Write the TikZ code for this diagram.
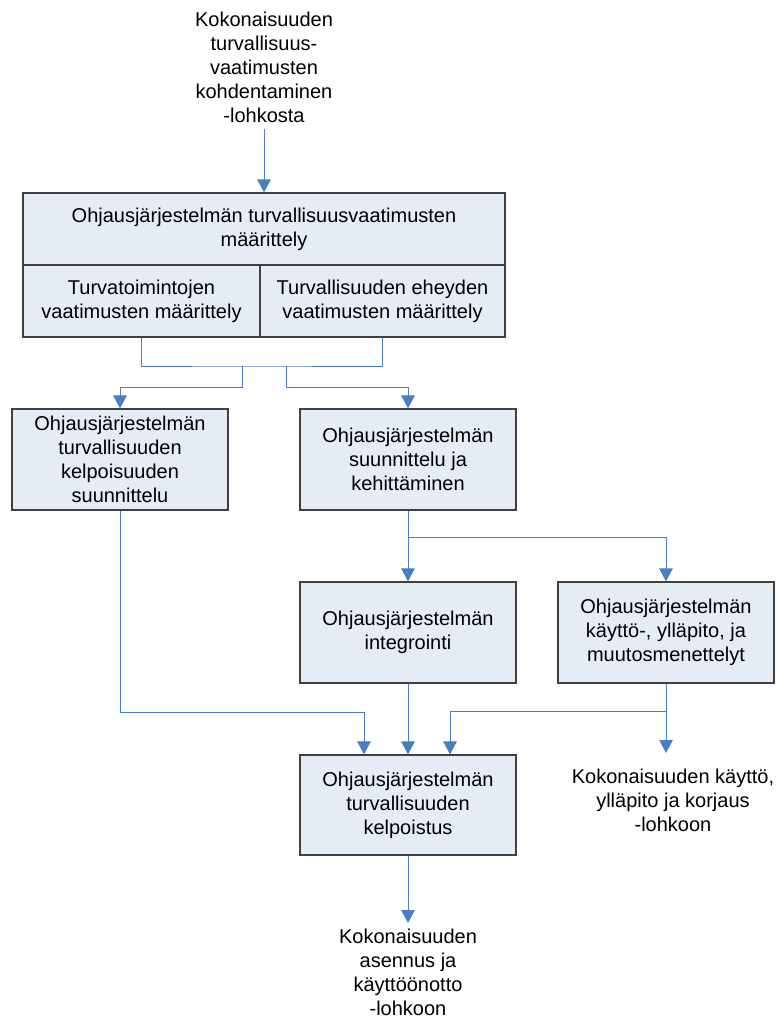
\documentclass[tikz,border=0pt]{standalone}
\usepackage{fontspec}
\setmainfont{Liberation Sans}
\usetikzlibrary{arrows.meta}
\definecolor{boxfill}{RGB}{230,236,246}
\definecolor{boxline}{RGB}{64,64,64}
\definecolor{flow}{RGB}{74,126,193}

\begin{document}
\begin{tikzpicture}
    [x=1pt,y=-1pt,
    every node/.style={font=\fontsize{20}{24}\selectfont,align=center},
    phase/.style={rectangle,draw=boxline,fill=boxfill,line width=1.2pt,inner sep=0pt,minimum width=216pt,minimum height=101pt},
    note/.style={inner sep=6pt},
    flowline/.style={draw=flow,line width=1pt},
    arr/.style={flowline,-{Triangle[width=13.5pt,length=13pt]}}]

    \useasboundingbox (0,0) rectangle (778,1021);

    \node[note,anchor=north] (src) at (264,6) {Kokonaisuuden\\turvallisuus-\\vaatimusten\\kohdentaminen\\-lohkosta};

    \node[phase,minimum width=482pt,minimum height=72pt] (reqtop) at (264,229) {Ohjausjärjestelmän turvallisuusvaatimusten\\määrittely};
    \node[phase,minimum width=237pt,minimum height=72pt] (reqleft) at (141.5,301) {Turvatoimintojen\\vaatimusten määrittely};
    \node[phase,minimum width=245pt,minimum height=72pt] (reqright) at (382.5,301) {Turvallisuuden eheyden\\vaatimusten määrittely};

    \node[phase] (plan) at (120,459.5) {Ohjausjärjestelmän\\turvallisuuden\\kelpoisuuden\\suunnittelu};
    \node[phase] (design) at (408,459.5) {Ohjausjärjestelmän\\suunnittelu ja\\kehittäminen};
    \node[phase] (integ) at (408,632.5) {Ohjausjärjestelmän\\integrointi};
    \node[phase] (oper) at (666,632.5) {Ohjausjärjestelmän\\käyttö-, ylläpito, ja\\muutosmenettelyt};
    \node[phase,minimum height=100pt] (valid) at (408,805) {Ohjausjärjestelmän\\turvallisuuden\\kelpoistus};

    \node[note,anchor=north,inner ysep=16pt] (maint) at (673,753) {Kokonaisuuden käyttö,\\ylläpito ja korjaus\\-lohkoon};
    \node[note,anchor=north] (inst) at (408,923) {Kokonaisuuden\\asennus ja\\käyttöönotto\\-lohkoon};

    \coordinate (j1) at (242,366);
    \coordinate (j2) at (286,366);
    \coordinate (j3) at (408,537);
    \coordinate (j4) at (364,712);
    \coordinate (j6) at (450,711);

    \draw[arr] (src) -- (reqtop);
    \draw[flowline] (reqleft.south) |- (j1) -| (reqright.south);
    \draw[arr] (j1) -- ++(0,21) -| (plan.north);
    \draw[arr] (j2) -- ++(0,21) -| (design.north);
    \draw[arr] (design) -- (integ);
    \draw[arr] (j3) -| (oper.north);
    \draw[arr] (plan.south) |- (j4) -- (j4 |- valid.north);
    \draw[arr] (integ) -- (valid);
    \draw[arr] (oper.south) |- (j6) -- (j6 |- valid.north);
    \draw[arr] (oper.south) -- (oper.south |- maint.north);
    \draw[arr] (valid) -- (inst);
\end{tikzpicture}
\end{document}
